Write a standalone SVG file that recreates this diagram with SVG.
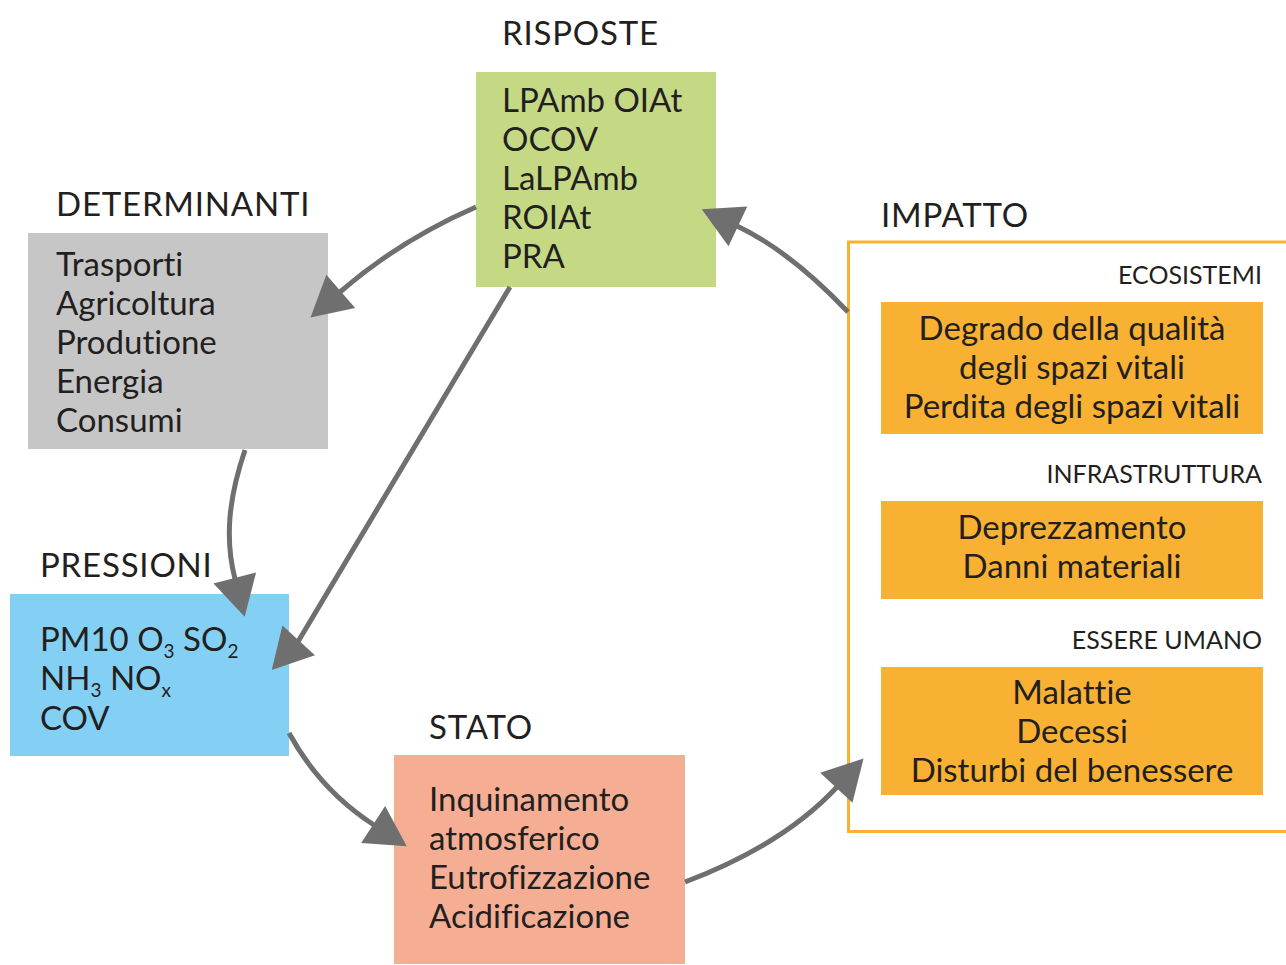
<svg xmlns="http://www.w3.org/2000/svg" width="1286" height="965" viewBox="0 0 1286 965">
<style>
text{font-family:Lato,"Open Sans","DejaVu Sans",sans-serif;fill:#231f20;font-variant-ligatures:none}
.h{font-size:33px;letter-spacing:0.8px}
.t{font-size:33px}
.s{font-size:25px;text-anchor:end}
.c{text-anchor:middle}
.sub{font-size:19px}
.conn{fill:none;stroke:#6f6f6f;stroke-width:5;marker-end:url(#ah)}
</style>
<defs>
<marker id="ah" markerUnits="userSpaceOnUse" markerWidth="44" markerHeight="46" viewBox="0 -23 44 46" refX="1" refY="0" orient="auto" overflow="visible">
<path d="M0,-22 L40,0 L0,22 z" fill="#6f6f6f"/>
</marker>
</defs>
<rect width="1286" height="965" fill="#fff"/>

<g id="risposte">
<text class="h" x="502" y="45">RISPOSTE</text>
<rect x="476" y="72" width="240" height="215" fill="#c5d985"/>
<text class="t" x="502" y="112">LPAmb OIAt</text>
<text class="t" x="502" y="151">OCOV</text>
<text class="t" x="502" y="190">LaLPAmb</text>
<text class="t" x="502" y="229">ROIAt</text>
<text class="t" x="502" y="268">PRA</text>
</g>

<g id="determinanti">
<text class="h" x="56" y="216">DETERMINANTI</text>
<rect x="28" y="233" width="300" height="216" fill="#c6c6c6"/>
<text class="t" x="56" y="276">Trasporti</text>
<text class="t" x="56" y="315">Agricoltura</text>
<text class="t" x="56" y="354">Produtione</text>
<text class="t" x="56" y="393">Energia</text>
<text class="t" x="56" y="432">Consumi</text>
</g>

<g id="pressioni">
<text class="h" x="40" y="577">PRESSIONI</text>
<rect x="10" y="594" width="279" height="162" fill="#84d0f4"/>
<text class="t" x="40" y="651">PM10 O<tspan class="sub" dy="7">3</tspan><tspan dy="-7"> SO</tspan><tspan class="sub" dy="7">2</tspan></text>
<text class="t" x="40" y="690">NH<tspan class="sub" dy="7">3</tspan><tspan dy="-7"> NO</tspan><tspan class="sub" dy="7">x</tspan></text>
<text class="t" x="40" y="730">COV</text>
</g>

<g id="stato">
<text class="h" x="429" y="739">STATO</text>
<rect x="394" y="755" width="291" height="209" fill="#f5ae94"/>
<text class="t" x="429" y="811">Inquinamento</text>
<text class="t" x="429" y="850">atmosferico</text>
<text class="t" x="429" y="889">Eutrofizzazione</text>
<text class="t" x="429" y="928">Acidificazione</text>
</g>

<g id="impatto">
<text class="h" x="881" y="227">IMPATTO</text>
<rect x="848.5" y="242" width="440" height="589.5" fill="none" stroke="#f7b236" stroke-width="3"/>
<text class="s" x="1262" y="284">ECOSISTEMI</text>
<rect x="881" y="302" width="382" height="132" fill="#f8b133"/>
<text class="t c" x="1072" y="340">Degrado della qualità</text>
<text class="t c" x="1072" y="379">degli spazi vitali</text>
<text class="t c" x="1072" y="418">Perdita degli spazi vitali</text>
<text class="s" x="1262" y="483">INFRASTRUTTURA</text>
<rect x="881" y="501" width="382" height="98" fill="#f8b133"/>
<text class="t c" x="1072" y="539">Deprezzamento</text>
<text class="t c" x="1072" y="578">Danni materiali</text>
<text class="s" x="1262" y="649">ESSERE UMANO</text>
<rect x="881" y="667" width="382" height="128" fill="#f8b133"/>
<text class="t c" x="1072" y="704">Malattie</text>
<text class="t c" x="1072" y="743">Decessi</text>
<text class="t c" x="1072" y="782">Disturbi del benessere</text>
</g>

<g id="connectors">
<path class="conn" d="M476,207 Q400,240 340,292"/>
<path class="conn" d="M245,450 C228,500 225,540 235,579"/>
<path class="conn" d="M510,287 L299,640 L298,641.1"/>
<path class="conn" d="M289,733 Q320,790 374,825"/>
<path class="conn" d="M685,882 Q783,845 837,787"/>
<path class="conn" d="M848,312 Q790,251 737,226"/>
</g>
</svg>
